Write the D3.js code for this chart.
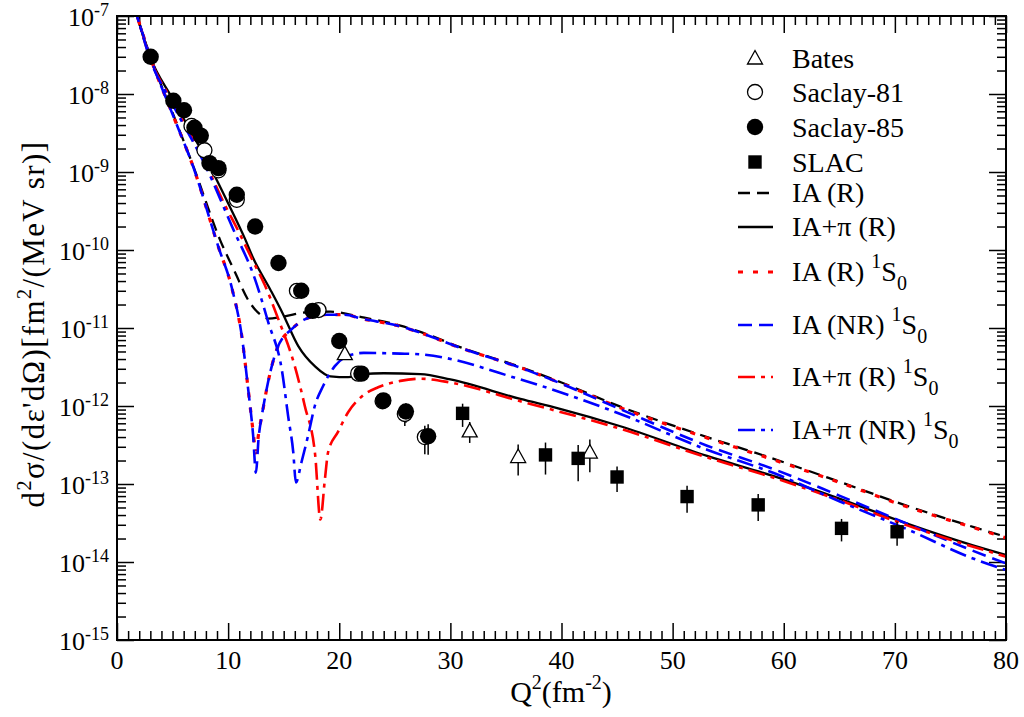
<!DOCTYPE html>
<html><head><meta charset="utf-8">
<script src="https://cdn.jsdelivr.net/npm/d3@7"></script>
<style>
body{margin:0;background:#fff}
svg{display:block}
text{font-family:"Liberation Serif","Times New Roman",serif;fill:#000}
</style>
</head><body>
<svg id="c" width="1024" height="717"></svg>
<script>
// ---------- data ----------
const xTicks = [0,10,20,30,40,50,60,70,80];
const yTickExp = [-7,-8,-9,-10,-11,-12,-13,-14,-15];

// curves
const iaR_x = [1.5,1.8,3.2,5.0,6.9,9.3,10.6,11.8,13.0,13.6,15.1,16.9,19.2,22.0,25.5,27.3,31.0,36.3,40.0,45.3,53.1,59.1,65.0,71.1,77.1,80.0];
const iaR_y = [1.38e-7,1.0e-7,2.5e-8,5.75e-9,1.15e-9,1.32e-10,5.25e-11,2.29e-11,1.45e-11,1.32e-11,1.41e-11,1.58e-11,1.62e-11,1.38e-11,1.07e-11,8.9e-12,5.6e-12,3.16e-12,2.0e-12,9.8e-13,4.0e-13,2.1e-13,1.07e-13,5.25e-14,2.8e-14,2.1e-14];

const iaPiR_x = [1.5,1.8,3.0,5.0,8.4,10.0,11.5,12.25,13.8,14.9,16.3,17.8,19.2,20.8,22.1,24.0,27.3,30.0,36.3,39.7,45.3,53.1,59.1,65.0,71.1,77.1,80.0];
const iaPiR_y = [1.38e-7,1.0e-7,2.95e-8,8.7e-9,1.15e-9,3.98e-10,1.41e-10,7.9e-11,3.1e-11,1.55e-11,5.9e-12,3.24e-12,2.4e-12,2.34e-12,2.57e-12,2.63e-12,2.57e-12,2.19e-12,1.23e-12,9.3e-13,5.5e-13,2.29e-13,1.26e-13,6.5e-14,3.1e-14,1.62e-14,1.23e-14];

const iaR1S0_x = [1.5,1.8,3.2,5.0,6.9,9.1,10.36,11.27,11.8,12.25,12.5,12.75,13.06,13.6,14.4,15.77,16.9,18.7,20.5,22.0,25.5,27.3,31.0,36.3,40.0,45.3,53.1,59.1,65.0,71.1,77.1,80.0];
const iaR1S0_y = [1.35e-7,1.0e-7,2.45e-8,5.5e-9,1.12e-9,1.12e-10,3.16e-11,7.2e-12,1.66e-12,4.7e-13,2.5e-13,4.5e-13,7.9e-13,2.04e-12,5.4e-12,9.8e-12,1.29e-11,1.48e-11,1.48e-11,1.32e-11,1.05e-11,8.7e-12,5.5e-12,3.1e-12,1.95e-12,9.5e-13,3.9e-13,2.04e-13,1.05e-13,5.1e-14,2.75e-14,2.04e-14];

const iaNR1S0_x = iaR1S0_x;
const iaNR1S0_y = [1.35e-7,1.0e-7,2.45e-8,5.5e-9,1.12e-9,1.12e-10,3.16e-11,7.2e-12,1.66e-12,4.2e-13,1.4e-13,4.0e-13,7.9e-13,2.04e-12,5.4e-12,9.8e-12,1.29e-11,1.48e-11,1.48e-11,1.32e-11,1.05e-11,8.7e-12,5.5e-12,3.1e-12,1.93e-12,9.1e-13,3.1e-13,1.55e-13,7.1e-14,3.1e-14,1.38e-14,9.6e-15];

const iaPiR1S0_x = [1.5,1.8,3.0,5.0,8.0,9.55,11.0,12.2,13.3,14.5,16.0,16.9,17.84,18.3,18.7,19.0,19.9,20.8,22.1,23.5,25.5,27.3,30.0,36.3,45.3,53.1,59.1,65.0,71.1,80.0];
const iaPiR1S0_y = [1.35e-7,1.0e-7,2.8e-8,7.9e-9,1.26e-9,4.2e-10,1.66e-10,7.4e-11,3.55e-11,1.32e-11,3.24e-12,1.0e-12,2.3e-13,3.5e-14,1.12e-13,2.57e-13,4.7e-13,8.3e-13,1.35e-12,1.74e-12,2.1e-12,2.24e-12,2.0e-12,1.15e-12,5.1e-13,2.19e-13,1.2e-13,6.2e-14,2.95e-14,1.17e-14];

const iaPiNR1S0_x = [1.5,1.8,3.0,5.0,8.0,10.45,12.4,13.6,14.86,15.4,15.86,16.1,16.6,17.2,17.8,18.56,19.6,20.8,22.2,25.5,27.3,36.3,45.3,53.1,59.1,65.0,71.1,77.1,80.0];
const iaPiNR1S0_y = [1.35e-7,1.0e-7,2.75e-8,7.4e-9,1.17e-9,1.86e-10,4.3e-11,1.2e-11,2.75e-12,7.4e-13,2.57e-13,1.05e-13,1.9e-13,4.2e-13,1.0e-12,1.82e-12,3.24e-12,4.4e-12,4.8e-12,4.7e-12,4.6e-12,2.19e-12,7.9e-13,2.75e-13,1.38e-13,6.0e-14,2.63e-14,1.1e-14,7.9e-15];

// data points (value, relative error)
const batesX = [20.5,31.74,36.1,42.55];
const batesY = [4.7e-12,4.8e-13,2.25e-13,2.57e-13];
const batesErr = [0.1,0.3,0.43,0.45];

const saclay81X = [6.7,7.87,9.13,10.78,16.19,18.14,21.7,23.9,25.9,27.7];
const saclay81Y = [3.9e-9,1.9e-9,1.05e-9,4.4e-10,3.0e-11,1.7e-11,2.6e-12,1.15e-12,7.9e-13,4.0e-13];
const saclay81Err = [0.06,0.08,0.06,0.08,0.08,0.08,0.1,0.15,0.3,0.4];

const saclay85X = [3.03,5.07,6.03,6.97,7.54,8.32,9.13,10.78,12.43,14.53,16.58,17.6,20.0,22.0,23.97,26.0,28.0];
const saclay85Y = [3.0e-8,8.2e-9,6.2e-9,3.7e-9,2.93e-9,1.3e-9,1.12e-9,5.1e-10,2.0e-10,6.8e-11,3.0e-11,1.66e-11,6.8e-12,2.6e-12,1.18e-12,8.5e-13,4.1e-13];
const saclay85Err = [0.05,0.05,0.05,0.05,0.05,0.05,0.05,0.06,0.06,0.06,0.06,0.06,0.08,0.1,0.15,0.28,0.42];

const slacX = [31.1,38.56,41.5,45.0,51.3,57.7,65.2,70.2];
const slacY = [8.05e-13,2.36e-13,2.13e-13,1.23e-13,6.9e-14,5.4e-14,2.7e-14,2.44e-14];
const slacErr = [0.33,0.44,0.49,0.36,0.38,0.38,0.32,0.34];

// ---------- layout ----------
const M = {left:117, right:1006, top:16, bottom:640};
const svg = d3.select('#c');
svg.append('rect').attr('width',1024).attr('height',717).attr('fill','#fff');

const x = d3.scaleLinear().domain([0,80]).range([M.left,M.right]);
const y = d3.scaleLog().domain([1e-15,1e-7]).range([M.bottom,M.top]);

svg.append('clipPath').attr('id','clip').append('rect')
  .attr('x',M.left).attr('y',M.top).attr('width',M.right-M.left).attr('height',M.bottom-M.top);

// ticks
const xMinor = d3.range(0,81,1).filter(v=>v%10!==0);
const yMajor = yTickExp.map(e=>Math.pow(10,e));
const yMinor = [];
for (let e=-15;e<=-8;e++) for (let k=2;k<=9;k++) yMinor.push(k*Math.pow(10,e));

function axis(gen, tr){
  const g = svg.append('g').attr('transform',tr).call(gen);
  g.select('.domain').remove();
  g.selectAll('text').remove();
  g.selectAll('line').attr('stroke','#000').attr('stroke-width',1.5);
}
axis(d3.axisBottom(x).tickValues(xTicks).tickSize(-17).tickSizeOuter(0).tickFormat(''), `translate(0,${M.bottom})`);
axis(d3.axisBottom(x).tickValues(xMinor).tickSize(-9).tickSizeOuter(0).tickFormat(''), `translate(0,${M.bottom})`);
axis(d3.axisTop(x).tickValues(xTicks).tickSize(-17).tickSizeOuter(0).tickFormat(''), `translate(0,${M.top})`);
axis(d3.axisTop(x).tickValues(xMinor).tickSize(-9).tickSizeOuter(0).tickFormat(''), `translate(0,${M.top})`);
axis(d3.axisLeft(y).tickValues(yMajor).tickSize(-17).tickSizeOuter(0).tickFormat(''), `translate(${M.left},0)`);
axis(d3.axisLeft(y).tickValues(yMinor).tickSize(-9).tickSizeOuter(0).tickFormat(''), `translate(${M.left},0)`);
axis(d3.axisRight(y).tickValues(yMajor).tickSize(-17).tickSizeOuter(0).tickFormat(''), `translate(${M.right},0)`);
axis(d3.axisRight(y).tickValues(yMinor).tickSize(-9).tickSizeOuter(0).tickFormat(''), `translate(${M.right},0)`);

// tick labels
svg.append('g').selectAll('text').data(xTicks).join('text')
  .attr('x',d=>x(d)).attr('y',M.bottom+29).attr('text-anchor','middle')
  .attr('font-size',26).text(d=>d);

const yl = svg.append('g').selectAll('text').data(yTickExp).join('text')
  .attr('x',M.left-8).attr('y',d=>y(Math.pow(10,d))+10).attr('text-anchor','end')
  .attr('font-size',26);
yl.append('tspan').text('10');
yl.append('tspan').attr('font-size',18).attr('dy',-10).text(d=>String(d));

// axis titles
const xt = svg.append('text').attr('x',561).attr('y',702).attr('text-anchor','middle').attr('font-size',30);
xt.append('tspan').text('Q');
xt.append('tspan').attr('font-size',20).attr('dy',-13).text('2');
xt.append('tspan').attr('dy',13).text('(fm');
xt.append('tspan').attr('font-size',20).attr('dy',-13).text('-2');
xt.append('tspan').attr('dy',13).text(')');

const yt = svg.append('text').attr('transform','translate(44,324) rotate(-90)')
  .attr('text-anchor','middle').attr('font-size',31).attr('letter-spacing',1.4);
yt.append('tspan').text('d');
yt.append('tspan').attr('font-size',20).attr('dy',-13).text('2');
yt.append('tspan').attr('dy',13).text('σ/(dε\'dΩ)[fm');
yt.append('tspan').attr('font-size',20).attr('dy',-13).text('2');
yt.append('tspan').attr('dy',13).text('/(MeV sr)]');

// curves
const curves = [
  {xs:iaR_x, ys:iaR_y, color:'#000', dash:'12,7', w:2.3},
  {xs:iaPiR_x, ys:iaPiR_y, color:'#000', dash:null, w:2.3},
  {xs:iaR1S0_x, ys:iaR1S0_y, color:'#ff0000', dash:'5,10', w:3.2},
  {xs:iaNR1S0_x, ys:iaNR1S0_y, color:'#0000ff', dash:'14,7', w:2.6},
  {xs:iaPiR1S0_x, ys:iaPiR1S0_y, color:'#ff0000', dash:'17,6,4,6', w:2.6},
  {xs:iaPiNR1S0_x, ys:iaPiNR1S0_y, color:'#0000ff', dash:'17,6,4,6', w:2.6}
];
const line = d3.line().x(d=>x(d[0])).y(d=>y(d[1])).curve(d3.curveMonotoneX);
const cg = svg.append('g').attr('clip-path','url(#clip)');
curves.forEach(c=>{
  cg.append('path').datum(c.xs.map((v,i)=>[v,c.ys[i]]))
    .attr('d',line).attr('fill','none').attr('stroke',c.color)
    .attr('stroke-width',c.w).attr('stroke-dasharray',c.dash);
});

// symbols
function sym(g,type,cx,cy){
  if(type==='tri'){
    g.append('path').attr('d',`M${cx},${cy-7.5}L${cx+7.5},${cy+6}L${cx-7.5},${cy+6}Z`)
      .attr('fill','#fff').attr('stroke','#000').attr('stroke-width',1.3);
  } else if(type==='ocirc'){
    g.append('circle').attr('cx',cx).attr('cy',cy).attr('r',7.5)
      .attr('fill','#fff').attr('stroke','#000').attr('stroke-width',1.3);
  } else if(type==='fcirc'){
    g.append('circle').attr('cx',cx).attr('cy',cy).attr('r',8.2).attr('fill','#000');
  } else if(type==='sq'){
    g.append('rect').attr('x',cx-6.7).attr('y',cy-6.7).attr('width',13.4).attr('height',13.4).attr('fill','#000');
  }
}
const sets = [
  {xs:saclay81X, ys:saclay81Y, err:saclay81Err, type:'ocirc'},
  {xs:saclay85X, ys:saclay85Y, err:saclay85Err, type:'fcirc'},
  {xs:batesX, ys:batesY, err:batesErr, type:'tri'},
  {xs:slacX, ys:slacY, err:slacErr, type:'sq'}
];
const pg = svg.append('g');
sets.forEach(s=>{
  s.xs.forEach((v,i)=>{
    const cx=x(v);
    pg.append('line').attr('x1',cx).attr('x2',cx)
      .attr('y1',y(s.ys[i]*(1+s.err[i]))).attr('y2',y(s.ys[i]*(1-s.err[i])))
      .attr('stroke','#000').attr('stroke-width',1.5);
  });
});
sets.forEach(s=>{
  s.xs.forEach((v,i)=>sym(pg,s.type,x(v),y(s.ys[i])));
});

// frame
svg.append('rect').attr('x',M.left).attr('y',M.top).attr('width',M.right-M.left).attr('height',M.bottom-M.top)
  .attr('fill','none').attr('stroke','#000').attr('stroke-width',2);

// legend
const lg = svg.append('g');
const legendSyms = [
  {type:'tri', label:'Bates', cy:58},
  {type:'ocirc', label:'Saclay-81', cy:92},
  {type:'fcirc', label:'Saclay-85', cy:127},
  {type:'sq', label:'SLAC', cy:162}
];
legendSyms.forEach(d=>{
  sym(lg,d.type,755,d.cy);
  lg.append('text').attr('x',792).attr('y',d.cy+10).attr('font-size',28).text(d.label);
});
const legendLines = [
  {c:curves[0], label:'IA (R)', s:false, cy:193},
  {c:curves[1], label:'IA+π (R)', s:false, cy:227},
  {c:curves[2], label:'IA (R) ', s:true, cy:272},
  {c:curves[3], label:'IA (NR) ', s:true, cy:325},
  {c:curves[4], label:'IA+π (R) ', s:true, cy:377},
  {c:curves[5], label:'IA+π (NR) ', s:true, cy:430}
];
legendLines.forEach(d=>{
  lg.append('line').attr('x1',738).attr('x2',773).attr('y1',d.cy).attr('y2',d.cy)
    .attr('stroke',d.c.color).attr('stroke-width',d.c.w).attr('stroke-dasharray',d.c.dash);
  const t = lg.append('text').attr('x',792).attr('y',d.cy+9).attr('font-size',28).attr('xml:space','preserve');
  t.append('tspan').text(d.label);
  if(d.s){
    t.append('tspan').attr('font-size',20).attr('dy',-13).text('1');
    t.append('tspan').attr('dy',13).text('S');
    t.append('tspan').attr('font-size',20).attr('dy',9).text('0');
  }
});
</script>
</body></html>
